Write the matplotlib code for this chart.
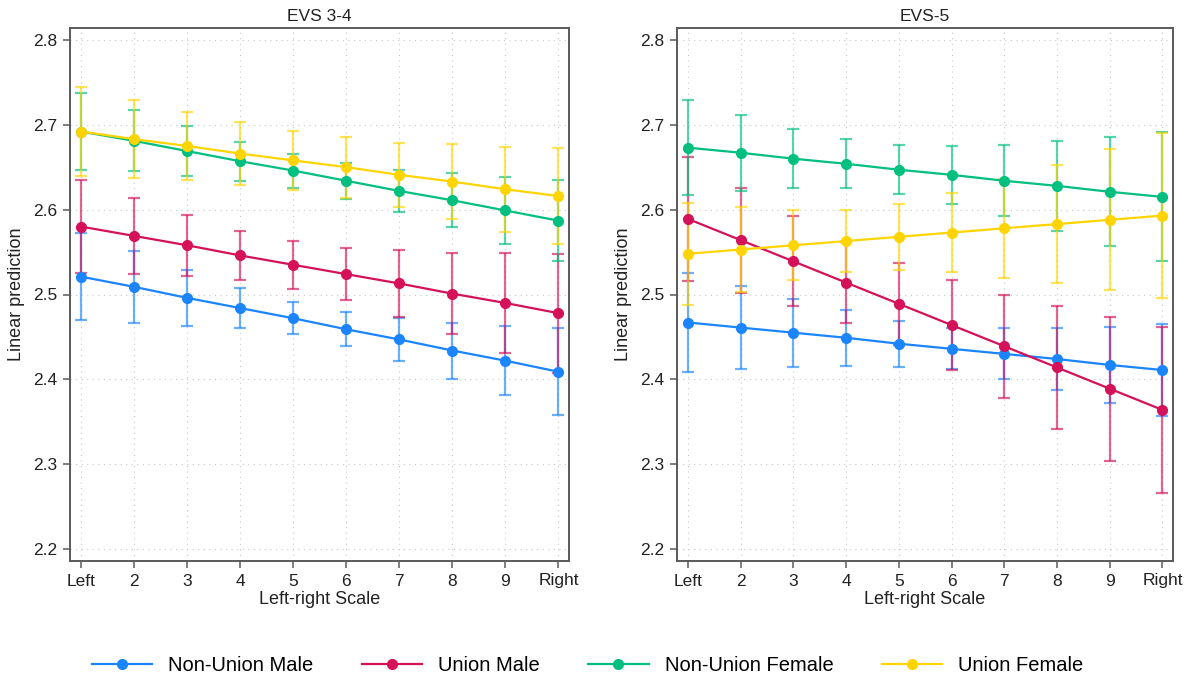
"""
Margins plot: predicted values by left-right scale, union status and sex,
for two EVS waves.
"""

import matplotlib
matplotlib.use("Agg")
import matplotlib.pyplot as plt
from matplotlib.lines import Line2D

plt.rcParams['font.family'] = ['Liberation Sans', 'DejaVu Sans']

# x positions and tick labels
scale_pos = [1, 2, 3, 4, 5, 6, 7, 8, 9, 10]
scale_labels = ['Left', '2', '3', '4', '5', '6', '7', '8', '9', 'Right']
y_ticks = [2.2, 2.3, 2.4, 2.5, 2.6, 2.7, 2.8]

series_names = ['Non-Union Male', 'Union Male', 'Non-Union Female', 'Union Female']
panel_titles = ['EVS 3-4', 'EVS-5']

# EVS 3-4: predictions and CI half-widths
evs34_nonunion_male = [2.521, 2.509, 2.496, 2.484, 2.472, 2.459, 2.447, 2.434, 2.422, 2.409]
evs34_nonunion_male_ci = [0.051, 0.042, 0.033, 0.024, 0.019, 0.020, 0.025, 0.033, 0.041, 0.051]
evs34_union_male = [2.580, 2.569, 2.558, 2.546, 2.535, 2.524, 2.513, 2.501, 2.490, 2.478]
evs34_union_male_ci = [0.055, 0.045, 0.036, 0.029, 0.028, 0.031, 0.039, 0.048, 0.059, 0.070]
evs34_nonunion_female = [2.692, 2.681, 2.669, 2.657, 2.646, 2.634, 2.622, 2.611, 2.599, 2.587]
evs34_nonunion_female_ci = [0.045, 0.036, 0.029, 0.023, 0.020, 0.021, 0.025, 0.032, 0.040, 0.048]
evs34_union_female = [2.692, 2.683, 2.675, 2.666, 2.658, 2.650, 2.641, 2.633, 2.624, 2.616]
evs34_union_female_ci = [0.052, 0.046, 0.040, 0.037, 0.035, 0.036, 0.038, 0.044, 0.050, 0.057]

# EVS-5
evs5_nonunion_male = [2.467, 2.461, 2.455, 2.449, 2.442, 2.436, 2.430, 2.424, 2.417, 2.411]
evs5_nonunion_male_ci = [0.058, 0.049, 0.040, 0.033, 0.027, 0.024, 0.030, 0.037, 0.045, 0.054]
evs5_union_male = [2.589, 2.564, 2.539, 2.514, 2.489, 2.464, 2.439, 2.414, 2.389, 2.364]
evs5_union_male_ci = [0.073, 0.062, 0.053, 0.048, 0.048, 0.053, 0.061, 0.072, 0.085, 0.098]
evs5_nonunion_female = [2.673, 2.667, 2.660, 2.654, 2.647, 2.641, 2.634, 2.628, 2.621, 2.615]
evs5_nonunion_female_ci = [0.056, 0.045, 0.035, 0.029, 0.029, 0.034, 0.042, 0.053, 0.064, 0.076]
evs5_union_female = [2.548, 2.553, 2.558, 2.563, 2.568, 2.573, 2.578, 2.583, 2.588, 2.593]
evs5_union_female_ci = [0.060, 0.050, 0.041, 0.037, 0.039, 0.047, 0.058, 0.070, 0.083, 0.097]

panels = [
    [(evs34_nonunion_male, evs34_nonunion_male_ci),
     (evs34_union_male, evs34_union_male_ci),
     (evs34_nonunion_female, evs34_nonunion_female_ci),
     (evs34_union_female, evs34_union_female_ci)],
    [(evs5_nonunion_male, evs5_nonunion_male_ci),
     (evs5_union_male, evs5_union_male_ci),
     (evs5_nonunion_female, evs5_nonunion_female_ci),
     (evs5_union_female, evs5_union_female_ci)],
]

# Stata stcolor palette
colors = ['#1a85ff', '#d41159', '#00bf7f', '#ffd400']
spine_color = '#5a5a5a'
text_color = '#222222'

fig = plt.figure(figsize=(11.87, 6.79), dpi=100)
fig.patch.set_facecolor('white')

axes_rects = [
    [70 / 1187, 1 - 561 / 679, 499 / 1187, 533 / 679],
    [677 / 1187, 1 - 561 / 679, 496 / 1187, 533 / 679],
]

for rect, title, series in zip(axes_rects, panel_titles, panels):
    ax = fig.add_axes(rect)

    # dotted grid behind everything
    for x in scale_pos:
        ax.axvline(x, color='#c8c8c8', lw=0.8, ls=(0, (1, 4)), zorder=0)
    for y in y_ticks:
        ax.axhline(y, color='#c8c8c8', lw=0.8, ls=(0, (1, 4)), zorder=0)

    for (vals, ci), color in zip(series, colors):
        ax.errorbar(scale_pos, vals, yerr=ci, fmt='none', ecolor=color,
                    elinewidth=1.6, capsize=4, capthick=1.6, alpha=0.65, zorder=2)
        ax.plot(scale_pos, vals, color=color, lw=1.6, marker='o',
                markersize=7, zorder=3)

    ax.set_xlim(0.79, 10.2)
    ax.set_ylim(2.186, 2.814)
    ax.set_xticks(scale_pos)
    ax.set_xticklabels(scale_labels)
    ax.set_yticks(y_ticks)
    ax.set_yticklabels([f'{y:.1f}' for y in y_ticks])
    ax.tick_params(direction='out', length=5, width=1.1, color=spine_color,
                   labelsize=12.5, labelcolor=text_color, pad=4)
    for spine in ax.spines.values():
        spine.set_color(spine_color)
        spine.set_linewidth(1.4)

    ax.set_title(title, fontsize=12.5, color=text_color, pad=5)
    ax.set_xlabel('Left-right Scale', fontsize=13, color=text_color, labelpad=2)
    ax.set_ylabel('Linear prediction', fontsize=13, color=text_color, labelpad=6)

handles = [Line2D([], [], color=c, lw=1.6, marker='o', markersize=7)
           for c in colors]
fig.legend(handles, series_names, loc='center', bbox_to_anchor=(0.495, 0.02),
           ncol=4, frameon=False, fontsize=14.5, handlelength=3.0,
           handletextpad=0.8, columnspacing=2.4)

fig.savefig('out.png', dpi=100, facecolor='white')
